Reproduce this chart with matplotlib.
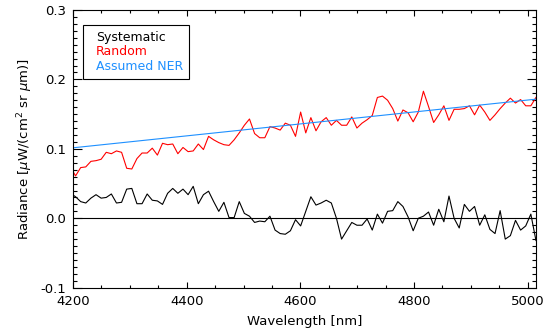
import matplotlib

matplotlib.use("Agg")
import matplotlib.pyplot as plt
import numpy as np
from matplotlib.lines import Line2D
from matplotlib.ticker import MultipleLocator

# Regular wavelength sampling of the spectra (nm).
WAVE_START = 4195.5
WAVE_STEP = 9.0

SYSTEMATIC = [
    0.036, 0.031, 0.024, 0.022, 0.029, 0.034, 0.029, 0.030, 0.035, 0.022,
    0.023, 0.042, 0.043, 0.021, 0.021, 0.035, 0.026, 0.025, 0.020, 0.036,
    0.043, 0.036, 0.042, 0.034, 0.046, 0.021, 0.034, 0.039, 0.024, 0.010,
    0.023, 0.001, 0.001, 0.024, 0.007, 0.003, -0.006, -0.004, -0.005, 0.003,
    -0.017, -0.022, -0.023, -0.018, -0.002, -0.011, 0.010, 0.031, 0.019, 0.022,
    0.026, 0.022, 0.000, -0.030, -0.018, -0.006, -0.010, -0.010, -0.001, -0.017,
    0.006, -0.007, 0.010, 0.011, 0.024, 0.017, 0.002, -0.018, 0.000, 0.003,
    0.009, -0.010, 0.013, -0.005, 0.032, 0.000, -0.014, 0.020, 0.010, 0.017,
    -0.010, 0.005, -0.016, -0.022, 0.011, -0.030, -0.025, -0.003, -0.017, -0.011,
    0.006, -0.032,
]

RANDOM = [
    0.074, 0.061, 0.073, 0.074, 0.082, 0.083, 0.085, 0.095, 0.093, 0.097,
    0.095, 0.072, 0.071, 0.086, 0.094, 0.094, 0.101, 0.091, 0.108, 0.106,
    0.107, 0.093, 0.102, 0.096, 0.097, 0.107, 0.099, 0.118, 0.113, 0.109,
    0.106, 0.105, 0.113, 0.123, 0.134, 0.143, 0.122, 0.116, 0.116, 0.132,
    0.130, 0.127, 0.137, 0.134, 0.118, 0.153, 0.123, 0.145, 0.126, 0.139,
    0.145, 0.134, 0.141, 0.134, 0.134, 0.146, 0.130, 0.137, 0.142, 0.148,
    0.174, 0.176, 0.170, 0.158, 0.140, 0.156, 0.152, 0.139, 0.153, 0.183,
    0.161, 0.138, 0.149, 0.162, 0.141, 0.157, 0.157, 0.158, 0.162, 0.149,
    0.163, 0.153, 0.141, 0.149, 0.158, 0.166, 0.173, 0.166, 0.171, 0.162,
    0.162, 0.174,
]

# Assumed noise-equivalent radiance: straight line between its end points.
NER_WAVE = [4200, 5014]
NER = [0.1015, 0.1715]

X_TICKS = [4200, 4400, 4600, 4800, 5000]
Y_TICKS = [-0.1, 0.0, 0.1, 0.2, 0.3]

NER_BLUE = "#1e90ff"

wave = WAVE_START + WAVE_STEP * np.arange(len(SYSTEMATIC))

fig = plt.figure(figsize=(5.48, 3.33), dpi=100)
ax = fig.add_axes([0.1332, 0.136, 0.8443, 0.834])

ax.axhline(0, color="black", linewidth=0.8)
ax.plot(wave, SYSTEMATIC, color="black", linewidth=0.8)
ax.plot(wave, RANDOM, color="red", linewidth=0.8)
ax.plot(NER_WAVE, NER, color=NER_BLUE, linewidth=0.8)

ax.set_xlim(4200, 5014)
ax.set_ylim(-0.1, 0.3)
ax.set_xticks(X_TICKS)
ax.set_yticks(Y_TICKS)
ax.set_yticklabels([f"{v:.1f}" for v in Y_TICKS])
ax.xaxis.set_minor_locator(MultipleLocator(50))
ax.yaxis.set_minor_locator(MultipleLocator(0.01))
ax.tick_params(axis="both", which="both", direction="in", top=True, right=True,
               labelsize=9.5, width=0.8, pad=5)
ax.tick_params(axis="x", which="major", length=4.5)
ax.tick_params(axis="x", which="minor", length=2.3)
ax.tick_params(axis="y", which="major", length=6.5)
ax.tick_params(axis="y", which="minor", length=3.2)
for spine in ax.spines.values():
    spine.set_linewidth(0.8)

ax.set_xlabel("Wavelength [nm]", fontsize=9.5, labelpad=5)
ax.set_ylabel(r"Radiance [$\mu$W/(cm$^2$ sr $\mu$m)]", fontsize=9.5, labelpad=4)

handles = [Line2D([], [], color=c, linewidth=0) for c in ("black", "red", NER_BLUE)]
leg = ax.legend(handles, ["Systematic", "Random", "Assumed NER"],
                loc="upper left", bbox_to_anchor=(0.021, 0.946), borderaxespad=0,
                handlelength=0, handletextpad=0.6, fontsize=9, labelspacing=0.15,
                fancybox=False, edgecolor="black", framealpha=1,
                labelcolor="linecolor", borderpad=0.45)
leg.get_frame().set_linewidth(0.8)

fig.savefig("out.png", dpi=100)
